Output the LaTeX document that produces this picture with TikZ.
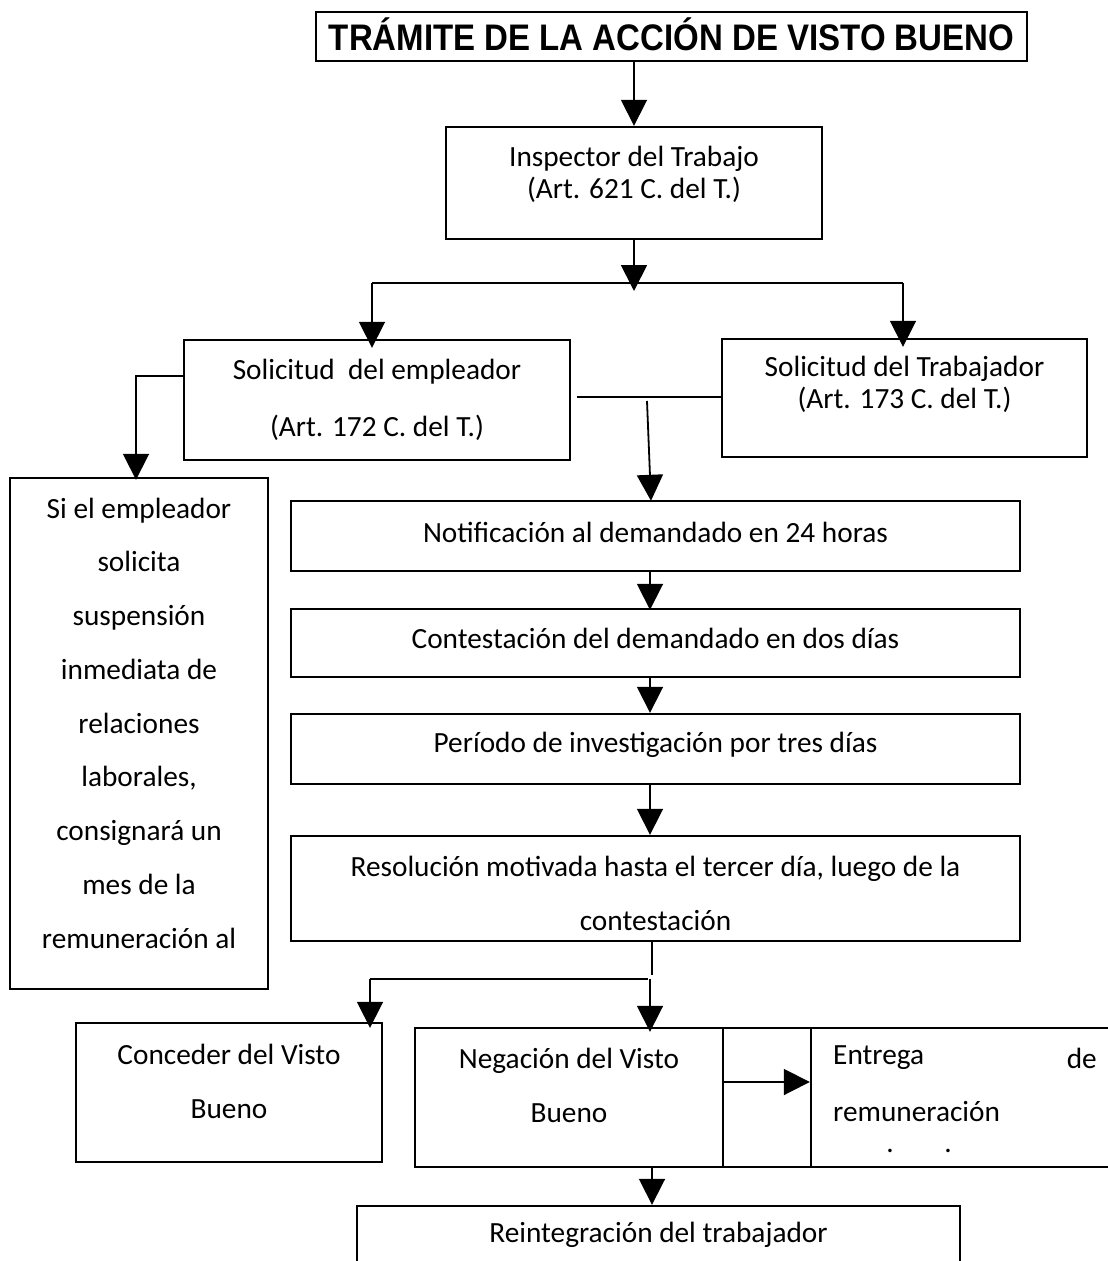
\documentclass[tikz,border=0pt]{standalone}
\usepackage{fontspec}
\setmainfont{Carlito}
\newfontfamily\titlefont{Liberation Sans}
\usetikzlibrary{arrows.meta}
\begin{document}
\begin{tikzpicture}[x=1pt,y=-1pt,
  box/.style={draw, line width=2.4pt, inner sep=0pt},
  txt/.style={inner sep=0pt, align=center, font=\fontsize{29.3}{32}\selectfont},
  con/.style={line width=1.8pt},
  arr/.style={line width=1.8pt, -{Triangle[length=26pt,width=26pt]}}]
\useasboundingbox[fill=white] (0,0) rectangle (1108,1261);

% boxes
\node[box, minimum width=711pt, minimum height=49pt] (title) at (671.5,36.5) {};
\node[inner sep=0pt, font=\titlefont\bfseries\fontsize{33}{36}\selectfont] (titletxt) at (671.5,34.5) {\scalebox{1}[1.12]{TRÁMITE DE LA ACCIÓN DE VISTO BUENO}};

\node[box, minimum width=376pt, minimum height=112pt] (insp) at (634,183) {};
\node[txt] (insptxt) at (634,174) {Inspector del Trabajo\\(Art. 621 C. del T.)};

\node[box, minimum width=386pt, minimum height=120pt] (emp) at (377,400) {};
\node[txt, font=\fontsize{29.3}{57}\selectfont] (emptxt) at (377,399.5) {Solicitud\ \ del empleador\\(Art. 172 C. del T.)};

\node[box, minimum width=365pt, minimum height=118pt] (trab) at (904.5,398) {};
\node[txt] (trabtxt) at (904.5,384) {Solicitud del Trabajador\\(Art. 173 C. del T.)};

\node[box, minimum width=258pt, minimum height=511pt] (left) at (139,733.5) {};
\node[txt, font=\fontsize{29.3}{53.75}\selectfont] (lefttxt) at (139,723) {Si el empleador\\solicita\\suspensión\\inmediata de\\relaciones\\laborales,\\consignará un\\mes de la\\remuneración al};

\node[box, minimum width=729pt, minimum height=70pt] (noti) at (655.5,536) {};
\node[txt] (notitxt) at (655.5,532) {Notificación al demandado en 24 horas};

\node[box, minimum width=729pt, minimum height=68pt] (cont) at (655.5,643) {};
\node[txt] (conttxt) at (655.5,638) {Contestación del demandado en dos días};

\node[box, minimum width=729pt, minimum height=70pt] (peri) at (655.5,749) {};
\node[txt] (peritxt) at (655.5,745) {Período de investigación por tres días};

\node[box, minimum width=729pt, minimum height=105pt] (reso) at (655.5,888.5) {};
\node[txt, font=\fontsize{29.3}{54}\selectfont] (resotxt) at (655.5,893) {Resolución motivada hasta el tercer día, luego de la\\contestación};

\node[box, minimum width=306pt, minimum height=139pt] (conc) at (229,1092.5) {};
\node[txt, font=\fontsize{29.3}{54}\selectfont] (conctxt) at (229,1081) {Conceder del Visto\\Bueno};

\node[box, minimum width=308pt, minimum height=139pt] (nega) at (569,1097.5) {};
\node[txt, font=\fontsize{29.3}{54}\selectfont] (negatxt) at (569,1085) {Negación del Visto\\Bueno};

\node[box, minimum width=88pt, minimum height=139pt] (strip) at (767,1097.5) {};
\node[box, minimum width=304pt, minimum height=139pt] (entr) at (963,1097.5) {};
\node[txt, anchor=west] (entr1) at (833,1058) {Entrega};
\node[txt, anchor=east] (entr2) at (1097,1058) {de};
\node[txt, anchor=west] (entr3) at (833,1112) {remuneración};
\node[inner sep=0pt, font=\fontsize{29.3}{32}\selectfont] (dot1) at (890,1151) {.};
\node[inner sep=0pt, font=\fontsize{29.3}{32}\selectfont] (dot2) at (948,1151) {.};

\node[box, minimum width=603pt, minimum height=80pt] (reint) at (658.5,1246) {};
\node[txt] (reinttxt) at (658.5,1235) {Reintegración del trabajador};

% coordinates
\coordinate (bl) at (372,283);
\coordinate (br) at (903,283);
\coordinate (bm) at (634,283);
\coordinate (m1) at (577,397);
\coordinate (m2) at (647,401);
\coordinate (r1) at (652,975);
\coordinate (cl) at (370,979);
\coordinate (cr) at (650,979);

% connectors
\draw[arr] (title.south -| insp.north) -- (insp.north);
\draw[arr] (insp.south) -- ([yshift=-8pt]bm);
\draw[con] (bl) -- (br);
\draw[arr] (bl) -- ([yshift=-9pt]bl |- emp.north);
\draw[arr] (br) -- ([yshift=-9pt]br |- trab.north);
\draw[arr] (emp.west |- 0,376) -| ([xshift=-3pt,yshift=-3pt]left.north);
\draw[con] (m1) -- (m1 -| trab.west);
\draw[arr] (m2) -- ([xshift=-4.5pt,yshift=-1pt]noti.north);
\draw[arr] (noti.south -| 650,0) -- ([yshift=-2pt]cont.north -| 650,0);
\draw[arr] (cont.south -| 650,0) -- (peri.north -| 650,0);
\draw[arr] (peri.south -| 650,0) -- (reso.north -| 650,0);
\draw[con] (reso.south -| r1) -- (r1);
\draw[con] (cl) -- ([xshift=-2pt]cr);
\draw[arr] (cl) -- ([yshift=-6pt]cl |- conc.north);
\draw[arr] (cr) -- ([yshift=-5pt]cr |- nega.north);
\draw[arr] (strip.west |- 0,1082) -- (entr.west |- 0,1082);
\draw[arr] (nega.south -| 652,0) -- (reint.north -| 652,0);
\end{tikzpicture}
\end{document}
